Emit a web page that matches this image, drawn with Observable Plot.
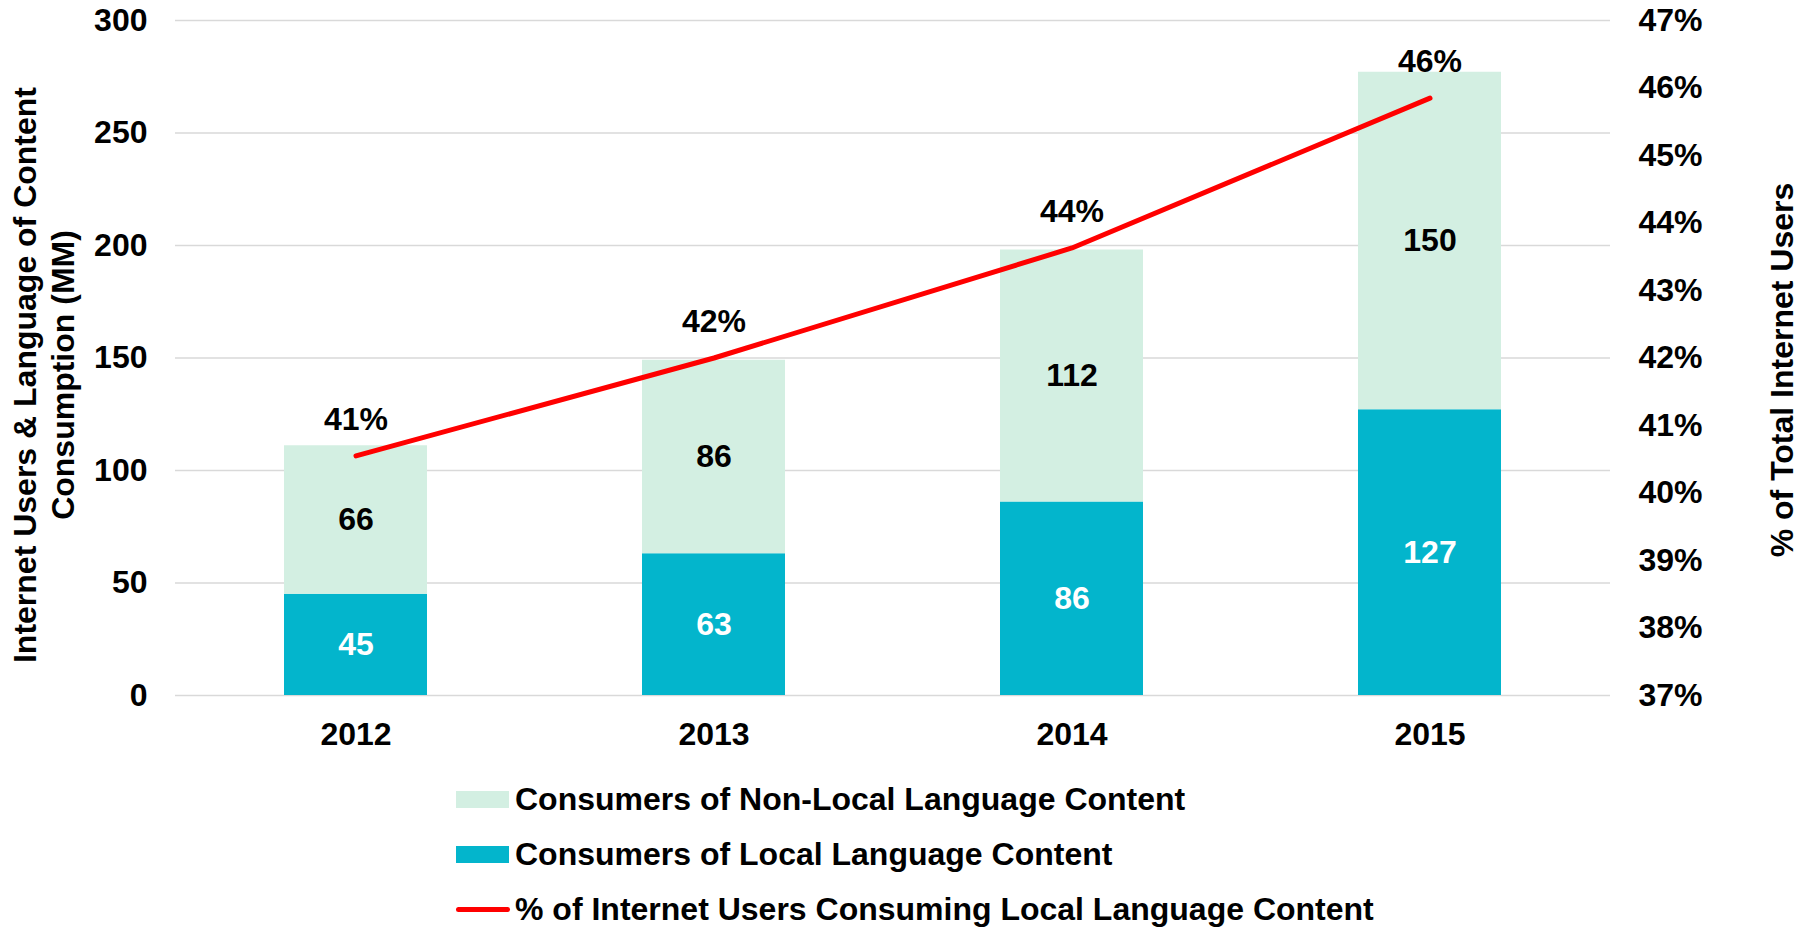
<!DOCTYPE html>
<html>
<head>
<meta charset="utf-8">
<script src="https://cdn.jsdelivr.net/npm/d3@7"></script>
<script src="https://cdn.jsdelivr.net/npm/@observablehq/plot@0.6"></script>
<style>
  html, body { margin: 0; padding: 0; background: #fff; overflow: hidden; }
  body { width: 1810px; height: 927px; font-family: "Liberation Sans", Arial, sans-serif; font-weight: bold; }
  #legend { padding-left: 456px; padding-top: 12px; font-size: 32px; color: #000; }
  .row { height: 55px; display: flex; align-items: center; }
  .sw { width: 53px; height: 17px; margin-right: 6px; }
  .ln { width: 54px; height: 5px; border-radius: 3px; margin-right: 5px; background: #ff0000; }
</style>
</head>
<body>
<div id="chart"></div>
<div id="legend"></div>
<script>
const years = ["2012", "2013", "2014", "2015"];
const localValues = [45, 63, 86, 127];
const nonLocalValues = [66, 86, 112, 150];
const pctValues = [40.55, 42.0, 43.63, 45.85];
const pctLabels = ["41%", "42%", "44%", "46%"];
const leftTicks = [0, 50, 100, 150, 200, 250, 300];
const rightTicks = [37, 38, 39, 40, 41, 42, 43, 44, 45, 46, 47];
const seriesNames = ["Consumers of Local Language Content", "Consumers of Non-Local Language Content"];
const lineName = "% of Internet Users Consuming Local Language Content";
const leftTitle = "Internet Users & Language of Content\nConsumption (MM)";
const rightTitle = "% of Total Internet Users";
const colors = ["#03B5CC", "#D3EFE2"];
const lineColor = "#FF0000";

const leftMax = 300, rMin = 37, rMax = 47;
const toLeft = p => (p - rMin) / (rMax - rMin) * leftMax;
const fromLeft = v => rMin + v / leftMax * (rMax - rMin);

const barData = years.flatMap((yr, i) => [
  {year: yr, type: seriesNames[0], value: localValues[i]},
  {year: yr, type: seriesNames[1], value: nonLocalValues[i]}
]);
const pctData = years.map((yr, i) => ({year: yr, pct: pctValues[i], label: pctLabels[i]}));

const font = {fontSize: 32, fontWeight: "bold"};

const chart = Plot.plot({
  width: 1810,
  height: 760,
  marginLeft: 175,
  marginRight: 200,
  marginTop: 20,
  marginBottom: 65,
  style: {fontFamily: "'Liberation Sans', Arial, sans-serif", fontSize: "32px", fontWeight: "bold", color: "#000", background: "#fff"},
  x: {domain: years, paddingInner: 0.6, paddingOuter: 0.3},
  y: {domain: [0, leftMax]},
  color: {domain: seriesNames, range: colors},
  marks: [
    Plot.gridY(leftTicks, {stroke: "#d9d9d9", strokeOpacity: 1, strokeWidth: 1.5}),
    Plot.barY(barData, {x: "year", y: "value", fill: "type"}),
    Plot.text(barData, Plot.stackY({x: "year", y: "value", text: d => d.type === seriesNames[0] ? String(d.value) : null, fill: "white", ...font})),
    Plot.text(barData, Plot.stackY({x: "year", y: "value", text: d => d.type === seriesNames[1] ? String(d.value) : null, fill: "black", ...font})),
    Plot.line(pctData, {x: "year", y: d => toLeft(d.pct), stroke: lineColor, strokeWidth: 5, strokeLinecap: "round"}),
    Plot.text(pctData, {x: "year", y: d => toLeft(d.pct), text: "label", dy: -36, fill: "black", ...font}),
    Plot.axisY(leftTicks, {anchor: "left", tickSize: 0, tickPadding: 28, label: null, ...font}),
    Plot.axisY(rightTicks.map(toLeft), {anchor: "right", tickSize: 0, tickPadding: 28, label: null, tickFormat: v => Math.round(fromLeft(v)) + "%", ...font}),
    Plot.axisX({tickSize: 0, tickPadding: 27, label: null, ...font}),
    Plot.text([leftTitle], {text: d => d, frameAnchor: "left", textAnchor: "middle", lineAnchor: "middle", rotate: -90, dx: -133, dy: 17, lineHeight: 1.19, ...font}),
    Plot.text([rightTitle], {text: d => d, frameAnchor: "right", textAnchor: "middle", lineAnchor: "middle", rotate: -90, dx: 172, dy: 12, ...font})
  ]
});
document.getElementById("chart").appendChild(chart);

const legend = document.getElementById("legend");
const items = [
  {label: seriesNames[1], kind: "sw", color: colors[1]},
  {label: seriesNames[0], kind: "sw", color: colors[0]},
  {label: lineName, kind: "ln", color: lineColor}
];
for (const it of items) {
  const row = document.createElement("div");
  row.className = "row";
  const s = document.createElement("div");
  s.className = it.kind;
  s.style.background = it.color;
  const t = document.createElement("span");
  t.textContent = it.label;
  row.appendChild(s);
  row.appendChild(t);
  legend.appendChild(row);
}
</script>
</body>
</html>
